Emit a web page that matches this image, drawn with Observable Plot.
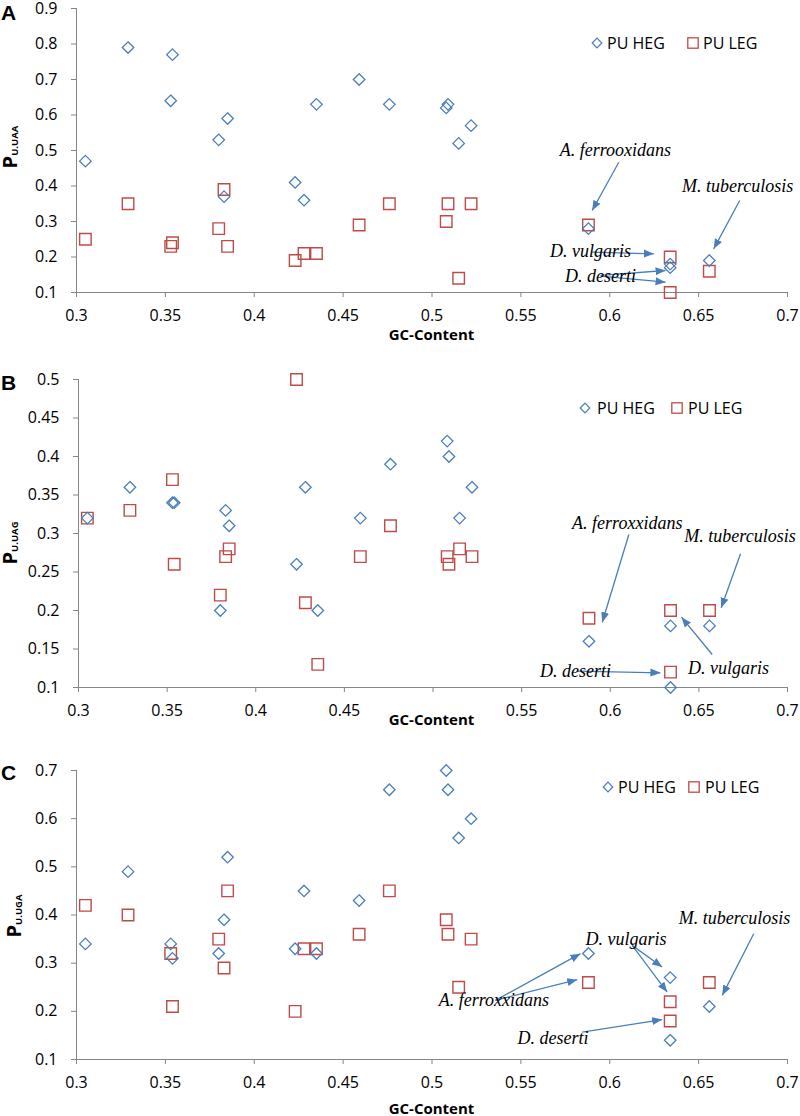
<!DOCTYPE html>
<html><head><meta charset="utf-8">
<script src="https://cdn.jsdelivr.net/npm/d3@7"></script>
<script src="https://cdn.jsdelivr.net/npm/@observablehq/plot@0.6"></script>
<style>
body{margin:0;background:#fff;}
#wrap{position:relative;width:800px;height:1116px;overflow:hidden;font-family:"Open Sans",sans-serif;color:#000;}
.panel{position:absolute;left:0;}
.letter{position:absolute;font-family:"Liberation Sans",Arial,sans-serif;font-weight:bold;font-size:21px;line-height:1;}
.ytitle{position:absolute;transform:translate(-50%,-50%) rotate(-90deg);font-weight:bold;white-space:nowrap;font-size:20px;line-height:20px;height:20px;}
.ytitle span{font-size:9.5px;vertical-align:-1px;}
.xtitle{position:absolute;transform:translate(-50%,-50%);font-weight:bold;font-size:15px;line-height:18px;white-space:nowrap;padding:0 2px;}
.xtitle.bg{background:#fff;padding:8px 4px 0 4px;}
.leg{position:absolute;font-size:16px;line-height:22px;white-space:nowrap;}
.legsym{position:absolute;}
</style>
</head><body><div id="wrap"></div>
<script>
// ---------- data ----------
const gc = [0.305, 0.329, 0.353, 0.354, 0.380, 0.383, 0.385, 0.423, 0.428, 0.435,
            0.459, 0.476, 0.508, 0.509, 0.515, 0.522, 0.588, 0.634, 0.634, 0.656];
const uaaHEG = [0.47, 0.79, 0.64, 0.77, 0.53, 0.37, 0.59, 0.41, 0.36, 0.63,
                0.70, 0.63, 0.62, 0.63, 0.52, 0.57, 0.28, 0.18, 0.17, 0.19];
const uaaLEG = [0.25, 0.35, 0.23, 0.24, 0.28, 0.39, 0.23, 0.19, 0.21, 0.21,
                0.29, 0.35, 0.30, 0.35, 0.14, 0.35, 0.29, 0.20, 0.10, 0.16];
const uagHEG = [0.32, 0.36, 0.34, 0.34, 0.20, 0.33, 0.31, 0.26, 0.36, 0.20,
                0.32, 0.39, 0.42, 0.40, 0.32, 0.36, 0.16, 0.18, 0.10, 0.18];
const uagLEG = [0.32, 0.33, 0.37, 0.26, 0.22, 0.27, 0.28, 0.50, 0.21, 0.13,
                0.27, 0.31, 0.27, 0.26, 0.28, 0.27, 0.19, 0.20, 0.12, 0.20];
const ugaHEG = [0.34, 0.49, 0.34, 0.31, 0.32, 0.39, 0.52, 0.33, 0.45, 0.32,
                0.43, 0.66, 0.70, 0.66, 0.56, 0.60, 0.32, 0.27, 0.14, 0.21];
const ugaLEG = [0.42, 0.40, 0.32, 0.21, 0.35, 0.29, 0.45, 0.20, 0.33, 0.33,
                0.36, 0.45, 0.39, 0.36, 0.25, 0.35, 0.26, 0.22, 0.18, 0.26];

const xTicks = [0.3, 0.35, 0.4, 0.45, 0.5, 0.55, 0.6, 0.65, 0.7];
const yTicksA = [0.1, 0.2, 0.3, 0.4, 0.5, 0.6, 0.7, 0.8, 0.9];
const yTicksB = [0.1, 0.15, 0.2, 0.25, 0.3, 0.35, 0.4, 0.45, 0.5];
const yTicksC = [0.1, 0.2, 0.3, 0.4, 0.5, 0.6, 0.7];
const seriesNames = ["PU HEG", "PU LEG"];

// annotations (data coordinates)
const labelsA = [
  {text: "A. ferrooxidans", x: 0.6032, y: 0.500, anchor: "middle"},
  {text: "M. tuberculosis", x: 0.6719, y: 0.3986, anchor: "middle"},
  {text: "D. vulgaris", x: 0.5892, y: 0.2155, anchor: "end"},
  {text: "D. deserti", x: 0.5948, y: 0.145, anchor: "end"}
];
const arrowsA = [
  {x1: 0.6051, y1: 0.467, x2: 0.5901, y2: 0.331},
  {x1: 0.6731, y1: 0.359, x2: 0.6585, y2: 0.223},
  {x1: 0.5901, y1: 0.2135, x2: 0.6248, y2: 0.209},
  {x1: 0.5948, y1: 0.148, x2: 0.6314, y2: 0.162},
  {x1: 0.5948, y1: 0.146, x2: 0.6314, y2: 0.129}
];
const labelsB = [
  {text: "A. ferroxxidans", x: 0.6096, y: 0.313, anchor: "middle"},
  {text: "M. tuberculosis", x: 0.6732, y: 0.2965, anchor: "middle"},
  {text: "D. vulgaris", x: 0.6667, y: 0.1253, anchor: "middle"},
  {text: "D. deserti", x: 0.5804, y: 0.1208, anchor: "end"}
];
const arrowsB = [
  {x1: 0.6105, y1: 0.2987, x2: 0.5955, y2: 0.1848},
  {x1: 0.6735, y1: 0.2736, x2: 0.6626, y2: 0.2035},
  {x1: 0.6575, y1: 0.1429, x2: 0.6402, y2: 0.1913},
  {x1: 0.5813, y1: 0.1212, x2: 0.6283, y2: 0.1191}
];
const labelsC = [
  {text: "A. ferroxxidans", x: 0.5348, y: 0.2228, anchor: "end"},
  {text: "D. vulgaris", x: 0.6091, y: 0.3494, anchor: "middle"},
  {text: "M. tuberculosis", x: 0.6702, y: 0.3923, anchor: "middle"},
  {text: "D. deserti", x: 0.5681, y: 0.145, anchor: "middle"}
];
const arrowsC = [
  {x1: 0.5357, y1: 0.2228, x2: 0.5835, y2: 0.3197},
  {x1: 0.5357, y1: 0.2228, x2: 0.5817, y2: 0.2658},
  {x1: 0.6126, y1: 0.3369, x2: 0.6295, y2: 0.292},
  {x1: 0.6126, y1: 0.3369, x2: 0.6323, y2: 0.240},
  {x1: 0.681, y1: 0.3612, x2: 0.6633, y2: 0.2332},
  {x1: 0.5845, y1: 0.157, x2: 0.6295, y2: 0.1828}
];

// ---------- style ----------
const BLUE = "#4a7ebb", RED = "#be4b48", AXIS = "#868686", ARROW = "#4a7ebb";
const fmt = d => String(+(+d).toFixed(2));
const squareSym = {draw(ctx, size) { const h = Math.sqrt(size) / 2; ctx.moveTo(-h, -h); ctx.lineTo(h, -h); ctx.lineTo(h, h); ctx.lineTo(-h, h); ctx.closePath(); }};
const diamondSym = {draw(ctx, size) { const h = Math.sqrt(size) / 2; ctx.moveTo(0, -h); ctx.lineTo(h, 0); ctx.lineTo(0, h); ctx.lineTo(-h, 0); ctx.closePath(); }};
const SQ_R = 11.5 / Math.sqrt(Math.PI), DI_R = 11.5 / Math.sqrt(Math.PI);

function filledArrow(color) {
  const m = d3.create("svg:marker")
    .attr("viewBox", "-10 -5 10 10")
    .attr("refX", 0).attr("refY", 0)
    .attr("markerWidth", 10).attr("markerHeight", 10)
    .attr("markerUnits", "userSpaceOnUse")
    .attr("orient", "auto")
    .attr("fill", color).attr("stroke", "none");
  m.append("path").attr("d", "M-10,-4L0,0L-10,4Z");
  return m.node();
}

function makePanel(cfg, marker) {
  const heg = gc.map((x, i) => ({x, y: cfg.heg[i]}));
  const leg = gc.map((x, i) => ({x, y: cfg.leg[i]}));
  return Plot.plot({
    width: 800, height: cfg.height,
    marginTop: cfg.mt, marginBottom: cfg.mb, marginLeft: cfg.ml, marginRight: 13,
    style: {fontFamily: "'Open Sans', sans-serif", fontSize: "16px", color: "#000", background: "transparent", overflow: "visible"},
    x: {domain: [0.3, 0.7]},
    y: {domain: [cfg.yTicks[0], cfg.yTicks[cfg.yTicks.length - 1]]},
    marks: [
      Plot.axisX({ticks: xTicks, tickFormat: fmt, tickSize: 5, tickPadding: 12, stroke: AXIS, fill: "#000", label: null}),
      Plot.axisY({ticks: cfg.yTicks, tickFormat: fmt, tickSize: 5, tickPadding: 14, stroke: AXIS, fill: "#000", label: null}),
      Plot.ruleX([0.3], {stroke: AXIS, strokeWidth: 1}),
      Plot.ruleY([cfg.yTicks[0]], {stroke: AXIS, strokeWidth: 1}),
      Plot.dot(leg, {x: "x", y: "y", symbol: squareSym, r: SQ_R, stroke: RED, strokeWidth: 1.4, fill: "none"}),
      Plot.dot(heg, {x: "x", y: "y", symbol: diamondSym, r: DI_R, stroke: BLUE, strokeWidth: 1.3, fill: "none"}),
      Plot.link(cfg.arrows, {x1: "x1", y1: "y1", x2: "x2", y2: "y2", stroke: ARROW, strokeWidth: 1.3, markerEnd: marker}),
      Plot.text(cfg.labels, {x: "x", y: "y", text: "text", textAnchor: d => d.anchor,
        fontFamily: "'Liberation Serif', 'Times New Roman', serif", fontStyle: "italic", fontSize: 18, fill: "#000"})
    ]
  });
}
function build(cfg) {
  try { return makePanel(cfg, filledArrow); }
  catch (e) { return makePanel(cfg, "arrow"); }
}

const panels = [
  {letter: "A", top: 0, height: 345, mt: 8, mb: 53, ml: 76, heg: uaaHEG, leg: uaaLEG, yTicks: yTicksA,
   labels: labelsA, arrows: arrowsA, sub: "U.UAA", ytx: 10, yty: 147, xty: 334, xbg: false,
   legend: [597, 607, 693, 703, 43], letterTop: 2},
  {letter: "B", top: 345, height: 400, mt: 34, mb: 58, ml: 78, heg: uagHEG, leg: uagLEG, yTicks: yTicksB,
   labels: labelsB, arrows: arrowsB, sub: "U.UAG", ytx: 10, yty: 543, xty: 715, xbg: true,
   legend: [585, 597, 677, 688, 408], letterTop: 372},
  {letter: "C", top: 745, height: 371, mt: 25, mb: 57, ml: 76, heg: ugaHEG, leg: ugaLEG, yTicks: yTicksC,
   labels: labelsC, arrows: arrowsC, sub: "U.UGA", ytx: 14, yty: 916, xty: 1108, xbg: false,
   legend: [608, 618, 694, 705, 787], letterTop: 762}
];

const wrap = document.getElementById("wrap");
for (const p of panels) {
  const div = document.createElement("div");
  div.className = "panel"; div.style.top = p.top + "px";
  div.appendChild(build(p));
  wrap.appendChild(div);

  const L = document.createElement("div");
  L.className = "letter"; L.textContent = p.letter;
  L.style.left = "1px"; L.style.top = p.letterTop + "px";
  wrap.appendChild(L);

  const yt = document.createElement("div");
  yt.className = "ytitle";
  yt.innerHTML = "P<span>" + p.sub + "</span>";
  yt.style.left = p.ytx + "px"; yt.style.top = p.yty + "px";
  wrap.appendChild(yt);

  const xt = document.createElement("div");
  xt.className = "xtitle" + (p.xbg ? " bg" : ""); xt.textContent = "GC-Content";
  xt.style.left = "431.5px"; xt.style.top = p.xty + "px";
  wrap.appendChild(xt);

  const [dx, tx1, sx, tx2, cy] = p.legend;
  const s1 = document.createElementNS("http://www.w3.org/2000/svg", "svg");
  s1.setAttribute("class", "legsym"); s1.setAttribute("width", 14); s1.setAttribute("height", 14);
  s1.style.left = (dx - 7) + "px"; s1.style.top = (cy - 7) + "px";
  s1.innerHTML = '<path d="M7,2.2L11.8,7L7,11.8L2.2,7Z" fill="none" stroke="' + BLUE + '" stroke-width="1.2"/>';
  wrap.appendChild(s1);
  const t1 = document.createElement("div");
  t1.className = "leg"; t1.textContent = seriesNames[0];
  t1.style.left = tx1 + "px"; t1.style.top = (cy - 11.5) + "px";
  wrap.appendChild(t1);
  const s2 = document.createElementNS("http://www.w3.org/2000/svg", "svg");
  s2.setAttribute("class", "legsym"); s2.setAttribute("width", 14); s2.setAttribute("height", 14);
  s2.style.left = (sx - 7) + "px"; s2.style.top = (cy - 7) + "px";
  s2.innerHTML = '<rect x="1.8" y="1.8" width="10.4" height="10.4" fill="none" stroke="' + RED + '" stroke-width="1.3"/>';
  wrap.appendChild(s2);
  const t2 = document.createElement("div");
  t2.className = "leg"; t2.textContent = seriesNames[1];
  t2.style.left = tx2 + "px"; t2.style.top = (cy - 11.5) + "px";
  wrap.appendChild(t2);
}
</script>
</body></html>
